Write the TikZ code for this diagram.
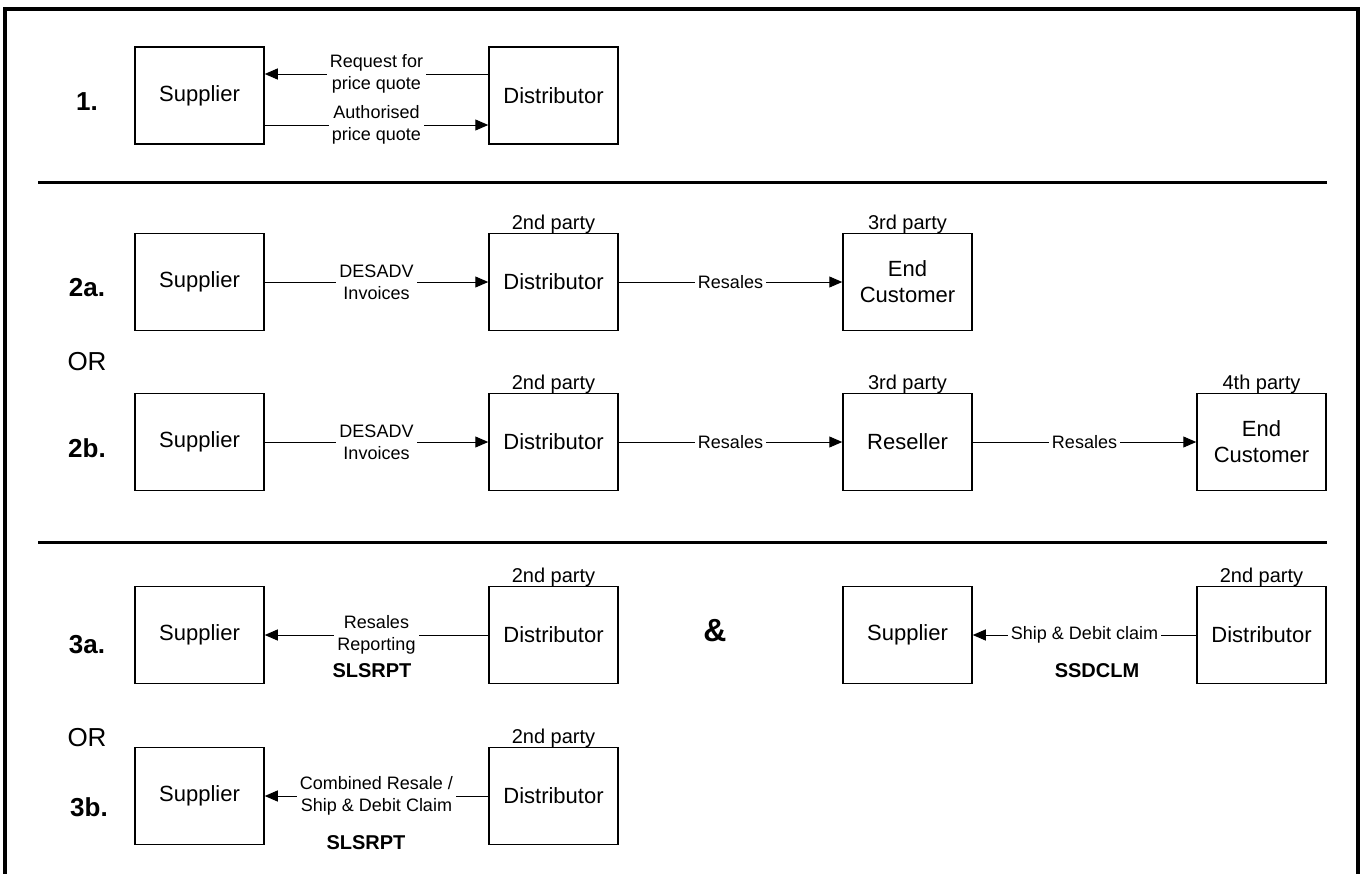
\documentclass[tikz,border=0pt]{standalone}
\usepackage{fontspec}
\setmainfont{Liberation Sans}
\usetikzlibrary{arrows.meta}

\tikzset{
    partybox/.style={draw, line width=0.75pt, minimum width=64.5pt, minimum height=48.5pt,
        inner sep=1pt, align=center, font=\fontsize{11}{13}\selectfont},
    flow/.style={line width=0.5pt, -{Triangle[length=6.5pt,width=5.5pt]}},
    flowlbl/.style={fill=white, inner sep=1.5pt, align=center, font=\fontsize{9}{10.8}\selectfont},
    partylbl/.style={anchor=base, inner sep=0pt, font=\fontsize{10}{12}\selectfont},
    msgcode/.style={font=\bfseries\fontsize{10}{12}\selectfont},
    rowlbl/.style={font=\bfseries\fontsize{13}{15}\selectfont},
    orlbl/.style={font=\fontsize{13}{15}\selectfont}
}

\begin{document}
\begin{tikzpicture}[x=0.5pt, y=-0.5pt]
        \useasboundingbox (0,0) rectangle (1365,873);

        % Draw the frame and the separators
            \draw[line width=2.25pt] (5,885) -- (5,9) -- (1358,9) -- (1358,885);
            \draw[line width=1.5pt] (38,182) -- (1327,182);
            \draw[line width=1.5pt] (38,542) -- (1327,542);

        % Row 1: price quote
            \node[rowlbl] (lbl1) at (87,102) {1.};
            \node[partybox] (sup1) at (199.5,95.5) {Supplier};
            \node[partybox] (dist1) at (553.5,95.5) {Distributor};
            \draw[flow] ([yshift=10.75pt]dist1.west) -- node[flowlbl] {Request for\\price quote} ([yshift=10.75pt]sup1.east);
            \draw[flow] ([yshift=-14.75pt]sup1.east) -- node[flowlbl] {Authorised\\price quote} ([yshift=-14.75pt]dist1.west);

        % Row 2a: supplier to end customer
            \node[rowlbl] (lbl2a) at (87,288) {2a.};
            \node[partybox] (sup2a) at (199.5,282) {Supplier};
            \node[partybox] (dist2a) at (553.5,282) {Distributor};
            \node[partybox] (cust2a) at (907.5,282) {End\\Customer};
            \node[partylbl] at ([yshift=1.5pt]dist2a.north) {2nd party};
            \node[partylbl] at ([yshift=1.5pt]cust2a.north) {3rd party};
            \draw[flow] (sup2a) -- node[flowlbl] {DESADV\\Invoices} (dist2a);
            \draw[flow] (dist2a) -- node[flowlbl] {Resales} (cust2a);

            \node[orlbl] (or2) at (87,362) {OR};

        % Row 2b: through a reseller
            \node[rowlbl] (lbl2b) at (87,448) {2b.};
            \node[partybox] (sup2b) at (199.5,442) {Supplier};
            \node[partybox] (dist2b) at (553.5,442) {Distributor};
            \node[partybox] (resl2b) at (907.5,442) {Reseller};
            \node[partybox] (cust2b) at (1261.5,442) {End\\Customer};
            \node[partylbl] at ([yshift=1.5pt]dist2b.north) {2nd party};
            \node[partylbl] at ([yshift=1.5pt]resl2b.north) {3rd party};
            \node[partylbl] at ([yshift=1.5pt]cust2b.north) {4th party};
            \draw[flow] (sup2b) -- node[flowlbl] {DESADV\\Invoices} (dist2b);
            \draw[flow] (dist2b) -- node[flowlbl] {Resales} (resl2b);
            \draw[flow] (resl2b) -- node[flowlbl] {Resales} (cust2b);

        % Row 3a: reporting and claims
            \node[rowlbl] (lbl3a) at (87,645) {3a.};
            \node[partybox] (sup3a) at (199.5,635) {Supplier};
            \node[partybox] (dist3a) at (553.5,635) {Distributor};
            \node[partylbl] at ([yshift=1.5pt]dist3a.north) {2nd party};
            \draw[flow] (dist3a) -- node[flowlbl] {Resales\\Reporting} (sup3a);
            \node[msgcode] (code3a) at (372,671) {SLSRPT};

            \node[font=\bfseries\fontsize{16}{19}\selectfont] (amp) at (715,631) {\&};

            \node[partybox] (sup3c) at (907.5,635) {Supplier};
            \node[partybox] (dist3c) at (1261.5,635) {Distributor};
            \node[partylbl] at ([yshift=1.5pt]dist3c.north) {2nd party};
            \draw[flow] (dist3c) -- node[flowlbl] {Ship \& Debit claim} (sup3c);
            \node[msgcode] (code3c) at (1097,671) {SSDCLM};

            \node[orlbl] (or3) at (87,738) {OR};

        % Row 3b: combined message
            \node[rowlbl] (lbl3b) at (89,807) {3b.};
            \node[partybox] (sup3b) at (199.5,796) {Supplier};
            \node[partybox] (dist3b) at (553.5,796) {Distributor};
            \node[partylbl] at ([yshift=1.5pt]dist3b.north) {2nd party};
            \draw[flow] (dist3b) -- node[flowlbl] {Combined Resale /\\Ship \& Debit Claim} (sup3b);
            \node[msgcode] (code3b) at (366,843) {SLSRPT};
    \end{tikzpicture}
\end{document}
